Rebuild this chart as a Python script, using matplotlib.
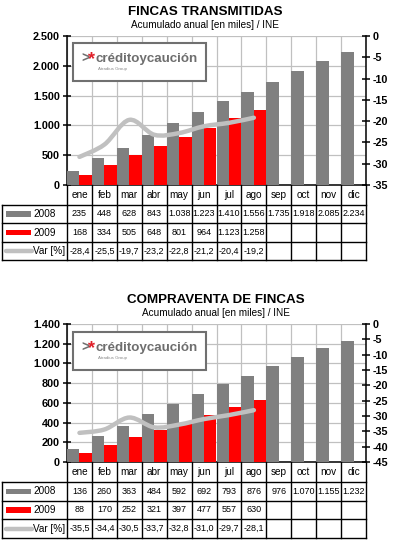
import numpy as np
import matplotlib
matplotlib.use("Agg")
import matplotlib.pyplot as plt
from matplotlib.path import Path
from matplotlib.patches import PathPatch, Rectangle
from matplotlib.ticker import FuncFormatter

plt.rcParams["font.family"] = ["Liberation Sans", "DejaVu Sans"]

# ─── Data ────────────────────────────────────────────────────────────────────
MONTHS = ["ene", "feb", "mar", "abr", "may", "jun",
          "jul", "ago", "sep", "oct", "nov", "dic"]

fincas_2008 = [235, 448, 628, 843, 1038, 1223, 1410, 1556, 1735, 1918, 2085, 2234]
fincas_2009 = [168, 334, 505, 648, 801, 964, 1123, 1258]
fincas_var  = [-28.4, -25.5, -19.7, -23.2, -22.8, -21.2, -20.4, -19.2]

compra_2008 = [136, 260, 363, 484, 592, 692, 793, 876, 976, 1070, 1155, 1232]
compra_2009 = [88, 170, 252, 321, 397, 477, 557, 630]
compra_var  = [-35.5, -34.4, -30.5, -33.7, -32.8, -31.0, -29.7, -28.1]

# ─── Colours ─────────────────────────────────────────────────────────────────
GRAY  = "#808080"
RED   = "#FF0000"
LINE  = "#C0C0C0"
GRID  = "#C0C0C0"

W, H = 395, 542
fig = plt.figure(figsize=(W / 100, H / 100), dpi=100)
over = fig.add_axes([0, 0, 1, 1], zorder=10)
over.set_xlim(0, W)
over.set_ylim(H, 0)
over.axis("off")


def rect(x0, y0, x1, y1):
    return [x0 / W, 1 - y1 / H, (x1 - x0) / W, (y1 - y0) / H]


def thousands(v):
    return f"{int(v):,}".replace(",", ".")


def comma(v):
    return f"{v:.1f}".replace(".", ",")


def smooth_path(xs, ys):
    pts = np.column_stack([xs, ys]).astype(float)
    ext = np.vstack([pts[0], pts, pts[-1]])
    verts = [pts[0]]
    codes = [Path.MOVETO]
    for i in range(len(pts) - 1):
        p0, p1, p2, p3 = ext[i], ext[i + 1], ext[i + 2], ext[i + 3]
        verts += [p1 + (p2 - p0) / 6, p2 - (p3 - p1) / 6, p2]
        codes += [Path.CURVE4] * 3
    return Path(verts, codes)


def logo(x0, y0, x1, y1):
    over.add_patch(Rectangle((x0, y0), x1 - x0, y1 - y0, facecolor="white",
                             edgecolor="#707070", lw=1.5))
    cy = y0 + 16
    over.text(81, cy, ">", color="#707070", fontsize=10, ha="left", va="center",
              fontweight="bold")
    over.text(88.5, cy + 1, "*", color="#E0202A", fontsize=13, ha="left", va="center",
              fontweight="bold")
    over.text(96, cy, "créditoycaución", color="#6E6E6E", fontsize=9.6,
              ha="left", va="center", fontweight="bold")
    over.text(97.5, cy + 10, "Atradius Group", color="#8A8A8A", fontsize=3.2,
              ha="left", va="center")


def panel(y_top, y_bot, rows_y, title, cx, vals08, vals09, var, ymax, ystep, rmin,
          logo_box):
    x_left, x_right = 67, 366
    ax = fig.add_axes(rect(x_left, y_top, x_right, y_bot))
    n = len(MONTHS)
    x = np.arange(n)
    w = 0.5
    ax.bar(x[:len(vals08)] - w / 2, vals08, w, color=GRAY, zorder=3)
    ax.bar(x[:len(vals09)] + w / 2, vals09, w, color=RED, zorder=3)
    ax.set_xlim(-0.5, n - 0.5)
    ax.set_ylim(0, ymax)
    ax.set_xticks(np.arange(-0.5, n, 1))
    ax.set_yticks(np.arange(0, ymax + 1, ystep))
    ax.yaxis.set_major_formatter(FuncFormatter(lambda v, p: thousands(v)))
    ax.grid(True, color=GRID, lw=0.9)
    ax.set_axisbelow(True)
    ax.tick_params(axis="x", length=0, labelbottom=False)
    ax.tick_params(axis="y", direction="inout", length=6, width=1.1,
                   labelsize=7.8, pad=2)
    for lab in ax.get_yticklabels():
        lab.set_fontweight("bold")
    ax.spines["top"].set_visible(False)
    ax.spines["right"].set_visible(False)
    ax.spines["left"].set_linewidth(1.1)
    ax.spines["bottom"].set_linewidth(1.1)

    ax2 = ax.twinx()
    ax2.set_ylim(rmin, 0)
    ax2.set_yticks(np.arange(rmin, 1, 5))
    ax2.yaxis.set_major_formatter(FuncFormatter(lambda v, p: f"{int(v)}"))
    ax2.tick_params(axis="y", direction="inout", length=6, width=1.1,
                    labelsize=7.8, pad=2)
    for lab in ax2.get_yticklabels():
        lab.set_fontweight("bold")
    for s in ("top", "left", "bottom"):
        ax2.spines[s].set_visible(False)
    ax2.spines["right"].set_linewidth(1.1)
    ax2.add_patch(PathPatch(smooth_path(x[:len(var)], var), facecolor="none",
                            edgecolor=LINE, lw=3.2, capstyle="round",
                            joinstyle="round", zorder=4))

    # titles
    over.text(cx, y_top - 24, title, ha="center", va="center", fontsize=9.6,
              fontweight="bold")
    over.text(cx, y_top - 11, "Acumulado anual [en miles] / INE", ha="center",
              va="center", fontsize=7.2)

    logo(*logo_box)

    # data table
    cw = (x_right - x_left) / n
    y0, y1, y2, y3, y4 = rows_y
    for k in range(n + 1):
        xx = x_left + k * cw
        over.plot([xx, xx], [y0, y4], color="black", lw=1)
    for yy in (y1, y2, y3, y4):
        over.plot([2, x_right], [yy, yy], color="black", lw=1)
    over.plot([2, 2], [y1, y4], color="black", lw=1)
    for k, m in enumerate(MONTHS):
        over.text(x_left + (k + 0.5) * cw, (y0 + y1) / 2, m, ha="center",
                  va="center", fontsize=7.2)
    rows = [(y1, y2, "2008", [thousands(v) for v in vals08], GRAY, "bar"),
            (y2, y3, "2009", [thousands(v) for v in vals09], RED, "bar"),
            (y3, y4, "Var [%]", [comma(v) for v in var], LINE, "line")]
    for ya, yb, lab, txt, col, kind in rows:
        yc = (ya + yb) / 2
        if kind == "bar":
            over.add_patch(Rectangle((6, yc - 2.7), 24.5, 5.4, color=col, lw=0))
        else:
            over.plot([6, 32], [yc, yc], color=col, lw=3.2,
                      solid_capstyle="round")
        over.text(33, yc, lab, ha="left", va="center", fontsize=7.2)
        for k, t in enumerate(txt):
            over.text(x_left + (k + 0.5) * cw, yc, t, ha="center", va="center",
                      fontsize=6.5)


panel(36, 185, (185, 205, 223, 242, 260), "FINCAS TRANSMITIDAS", 205,
      fincas_2008, fincas_2009, fincas_var, 2500, 500, -35, (73, 43, 206, 81))
panel(324, 462, (462, 482, 501, 519, 538), "COMPRAVENTA DE FINCAS", 216,
      compra_2008, compra_2009, compra_var, 1400, 200, -45, (73, 332, 206, 370))

fig.savefig("out.png", dpi=100)
